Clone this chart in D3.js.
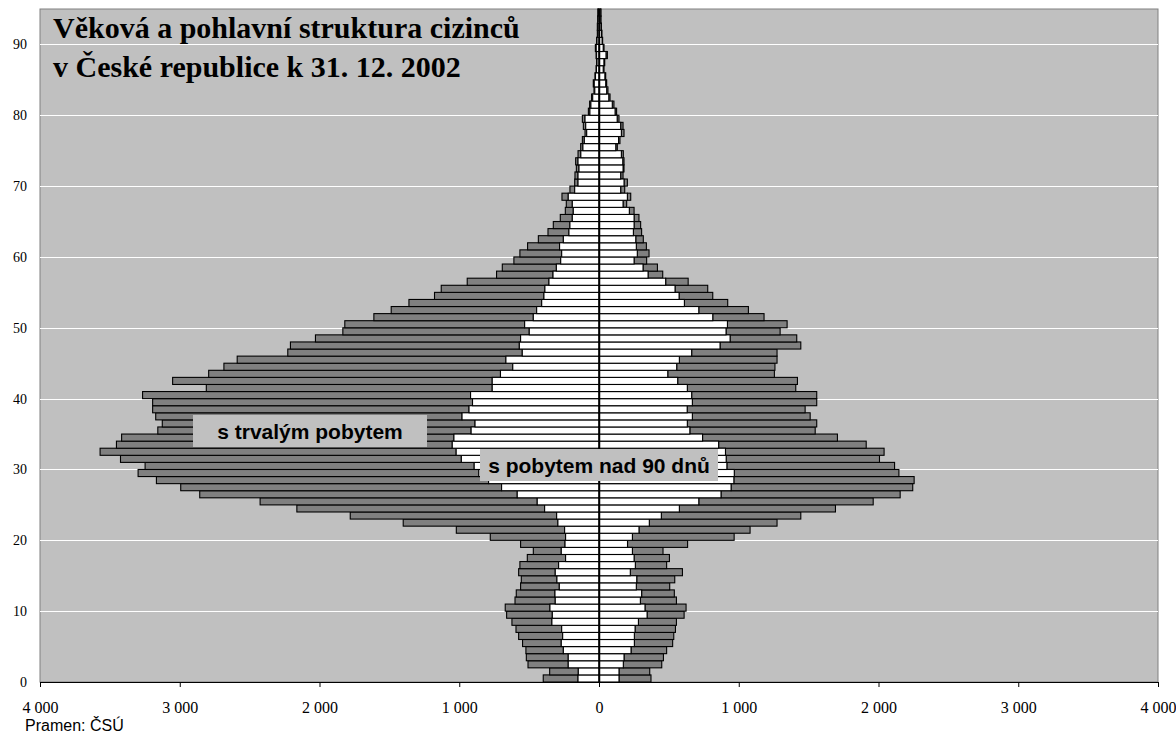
<!DOCTYPE html>
<html>
<head>
<meta charset="utf-8">
<script src="https://cdn.jsdelivr.net/npm/d3@7"></script>
<style>
  body { margin: 0; background: #fff; }
  svg text { fill: #000; }
</style>
</head>
<body>
<div id="chart"></div>
<script>
/**
 * Věková a pohlavní struktura cizinců, ČR 31. 12. 2002
 */

// Global: d3

// Ages 0..94, one bar each
let ages = d3.range(0, 95);

// Left side (muži): white = s trvalým pobytem, gray = s pobytem nad 90 dnů (stacked on white)
let muziTrvaly = [
  150, 148, 220, 220, 255, 270, 260, 267, 337, 334,
  351, 313, 315, 284, 301, 313, 289, 239, 270, 243,
  239, 246, 294, 303, 389, 442, 585, 697, 790, 860,
  893, 985, 1022, 1050, 1038, 915, 887, 980, 930, 905,
  919, 764, 764, 705, 617, 666, 549, 570, 561, 499,
  532, 470, 446, 410, 394, 387, 358, 329, 305, 274,
  267, 282, 255, 215, 208, 191, 184, 191, 220, 174,
  150, 150, 143, 150, 130, 115, 105, 88, 95, 100,
  65, 58, 45, 30, 34, 25, 18, 14, 17, 20,
  14, 10, 10, 8, 6
];
let muziNad90 = [
  249, 205, 288, 300, 268, 277, 315, 327, 286, 327,
  320, 288, 277, 277, 255, 262, 277, 274, 200, 318,
  539, 775, 1107, 1477, 1773, 1983, 2272, 2296, 2377, 2438,
  2355, 2439, 2548, 2403, 2378, 2242, 2238, 2192, 2264, 2289,
  2347, 2046, 2287, 2088, 2067, 1923, 1678, 1638, 1468, 1334,
  1287, 1141, 1041, 950, 783, 742, 585, 404, 387, 335,
  299, 229, 179, 150, 119, 86, 57, 43, 45, 34,
  24, 22, 19, 17, 20, 16, 14, 12, 17, 19,
  11, 9, 8, 6, 7, 4, 3, 3, 4, 6,
  3, 2, 2, 2, 2
];

// Right side (ženy)
let zenyTrvaly = [
  143, 143, 174, 179, 229, 253, 253, 258, 282, 344,
  329, 296, 305, 267, 270, 224, 260, 251, 239, 204,
  239, 286, 360, 446, 575, 714, 873, 945, 965, 968,
  915, 910, 905, 856, 741, 650, 632, 668, 631, 668,
  663, 632, 563, 492, 556, 575, 663, 866, 938, 909,
  919, 814, 714, 611, 573, 544, 477, 351, 315, 251,
  274, 267, 263, 246, 251, 251, 217, 172, 203, 155,
  179, 155, 172, 170, 160, 120, 140, 160, 155, 130,
  115, 95, 70, 55, 48, 42, 30, 35, 50, 30,
  22, 18, 14, 12, 12
];
let zenyNad90 = [
  229, 220, 275, 282, 255, 274, 282, 289, 272, 265,
  294, 258, 234, 239, 272, 373, 224, 253, 219, 430,
  728, 795, 914, 998, 1117, 1248, 1282, 1300, 1290, 1178,
  1200, 1097, 1135, 1056, 965, 897, 926, 843, 844, 890,
  895, 776, 857, 763, 703, 699, 611, 578, 477, 387,
  427, 367, 355, 310, 241, 234, 161, 105, 103, 90,
  84, 72, 54, 59, 47, 35, 34, 26, 24, 29,
  24, 17, 7, 9, 14, 11, 10, 19, 17, 13,
  11, 12, 9, 9, 7, 6, 6, 6, 10, 6,
  4, 3, 3, 2, 2
];

// Tick labels
let xTicks = [-4000, -3000, -2000, -1000, 0, 1000, 2000, 3000, 4000];
let yTicks = [0, 10, 20, 30, 40, 50, 60, 70, 80, 90];
let titleLines = ['Věková a pohlavní struktura cizinců', 'v České republice k 31. 12. 2002'];

let width = 1176;
let height = 733;
let plot = { left: 40, right: 1158, top: 9, bottom: 682 };

let serif = "'Times New Roman', 'Liberation Serif', serif";
let sans = "Arial, 'Liberation Sans', sans-serif";

let svg = d3.select('#chart').append('svg')
  .attr('width', width)
  .attr('height', height);

let x = d3.scaleLinear().domain([-4000, 4000]).range([plot.left, plot.right]);
let y = d3.scaleLinear().domain([0, 95]).range([plot.bottom, plot.top]);

// Plot background
svg.append('rect')
  .attr('x', plot.left)
  .attr('y', plot.top)
  .attr('width', plot.right - plot.left)
  .attr('height', plot.bottom - plot.top)
  .attr('fill', '#c0c0c0')
  .attr('stroke', '#808080')
  .attr('stroke-width', 1);

// Gridlines
svg.append('g')
  .selectAll('line')
  .data(yTicks.filter(d => d > 0))
  .enter()
  .append('line')
    .attr('x1', plot.left)
    .attr('x2', plot.right)
    .attr('y1', d => Math.round(y(d)) + 0.5)
    .attr('y2', d => Math.round(y(d)) + 0.5)
    .attr('stroke', '#fff')
    .attr('stroke-width', 1);

// Rows: one object per age
let rows = ages.map((a, i) => ({
  age: a,
  mT: muziTrvaly[i],
  mN: muziNad90[i],
  zT: zenyTrvaly[i],
  zN: zenyNad90[i]
}));

const barY = d => y(d.age + 1);
const barH = d => y(d.age) - y(d.age + 1);

let bars = svg.append('g')
  .attr('stroke', '#000')
  .attr('stroke-width', 1.1);

// Gray segments (nad 90 dnů)
bars.selectAll('rect.mN')
  .data(rows)
  .enter()
  .append('rect')
    .classed('mN', true)
    .attr('x', d => x(-(d.mT + d.mN)))
    .attr('y', barY)
    .attr('width', d => x(-d.mT) - x(-(d.mT + d.mN)))
    .attr('height', barH)
    .attr('fill', '#808080');

bars.selectAll('rect.zN')
  .data(rows)
  .enter()
  .append('rect')
    .classed('zN', true)
    .attr('x', d => x(d.zT))
    .attr('y', barY)
    .attr('width', d => x(d.zT + d.zN) - x(d.zT))
    .attr('height', barH)
    .attr('fill', '#808080');

// White segments (trvalý pobyt)
bars.selectAll('rect.mT')
  .data(rows)
  .enter()
  .append('rect')
    .classed('mT', true)
    .attr('x', d => x(-d.mT))
    .attr('y', barY)
    .attr('width', d => x(0) - x(-d.mT))
    .attr('height', barH)
    .attr('fill', '#fff');

bars.selectAll('rect.zT')
  .data(rows)
  .enter()
  .append('rect')
    .classed('zT', true)
    .attr('x', x(0))
    .attr('y', barY)
    .attr('width', d => x(d.zT) - x(0))
    .attr('height', barH)
    .attr('fill', '#fff');

// Center line
svg.append('line')
  .attr('x1', Math.round(x(0)) + 0.5)
  .attr('x2', Math.round(x(0)) + 0.5)
  .attr('y1', plot.top)
  .attr('y2', plot.bottom)
  .attr('stroke', '#000')
  .attr('stroke-width', 1.5);

// X axis
let fmt = d3.formatLocale({ decimal: ',', thousands: '\u00a0', grouping: [3], currency: ['', ''] }).format(',');
let xAxis = svg.append('g')
  .attr('transform', `translate(0,${plot.bottom})`)
  .call(d3.axisBottom(x)
    .tickValues(xTicks)
    .tickSize(5)
    .tickSizeOuter(0)
    .tickPadding(15)
    .tickFormat(d => fmt(Math.abs(d))));
xAxis.selectAll('path, line').attr('stroke', '#000');
xAxis.selectAll('text')
  .attr('font-family', serif)
  .attr('font-size', 16)
  .attr('fill', '#000');

// Y labels (ages)
let yAxis = svg.append('g')
  .attr('transform', `translate(${plot.left},0)`)
  .call(d3.axisLeft(y)
    .tickValues(yTicks)
    .tickSize(0)
    .tickPadding(13));
yAxis.select('.domain').remove();
yAxis.selectAll('text')
  .attr('font-family', serif)
  .attr('font-size', 14)
  .attr('fill', '#000');

// Series labels
let labels = [
  { text: 's trvalým pobytem', x: 193, y: 415, w: 234, h: 32 },
  { text: 's pobytem nad 90 dnů', x: 480, y: 449, w: 238, h: 32 }
];
let lab = svg.append('g')
  .selectAll('g')
  .data(labels)
  .enter()
  .append('g');
lab.append('rect')
  .attr('x', d => d.x)
  .attr('y', d => d.y)
  .attr('width', d => d.w)
  .attr('height', d => d.h)
  .attr('fill', '#c0c0c0');
lab.append('text')
  .attr('x', d => d.x + d.w / 2)
  .attr('y', d => d.y + d.h / 2)
  .attr('dy', '0.36em')
  .attr('text-anchor', 'middle')
  .attr('font-family', sans)
  .attr('font-weight', 'bold')
  .attr('font-size', 21)
  .text(d => d.text);

// Title
svg.append('g')
  .selectAll('text')
  .data(titleLines)
  .enter()
  .append('text')
    .attr('x', 53)
    .attr('y', (d, i) => 38 + i * 39)
    .attr('font-family', serif)
    .attr('font-weight', 'bold')
    .attr('font-size', 30)
    .text(d => d);

// Source
svg.append('text')
  .attr('x', 25)
  .attr('y', 731)
  .attr('font-family', sans)
  .attr('font-size', 16)
  .text('Pramen: ČSÚ');
</script>
</body>
</html>
